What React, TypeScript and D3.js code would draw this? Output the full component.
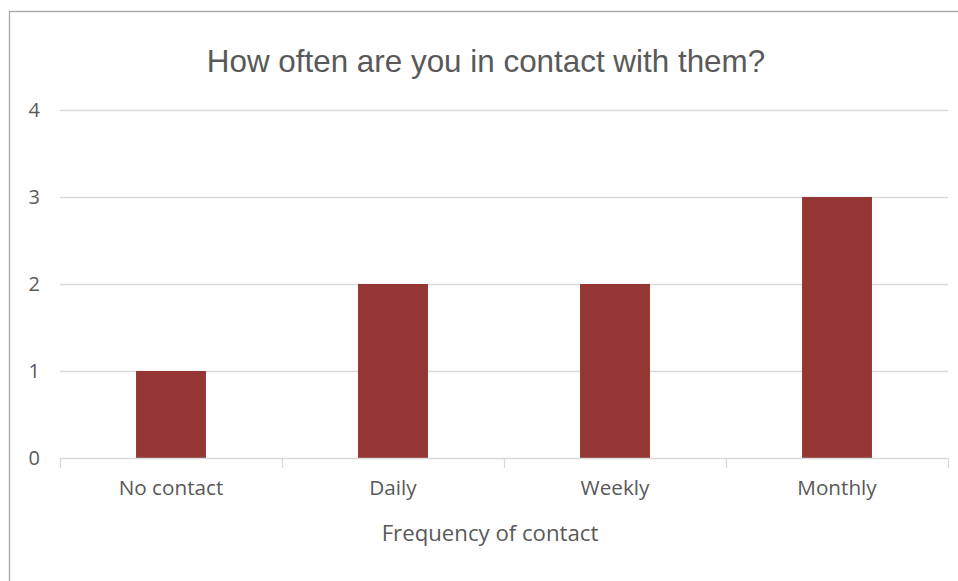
import React, { useEffect, useRef } from "react";
import * as d3 from "d3";

const categories = ["No contact", "Daily", "Weekly", "Monthly"];
const counts = [1, 2, 2, 3];
const yTicks = [0, 1, 2, 3, 4];

const title = "How often are you in contact with them?";
const xTitle = "Frequency of contact";

const W = 958;
const H = 581;

const App: React.FC = () => {
  const ref = useRef<SVGSVGElement>(null);

  useEffect(() => {
    if (!ref.current) return;
    const svg = d3.select(ref.current);
    svg.selectAll("*").remove();

    const left = 60;
    const right = 948;
    const top = 110;
    const bottom = 458;

    // chart frame (runs off the right and bottom edges)
    svg
      .append("rect")
      .attr("x", 9.5)
      .attr("y", 11.5)
      .attr("width", W + 20)
      .attr("height", H + 20)
      .attr("fill", "#fff")
      .attr("stroke", "#a6a6a6")
      .attr("stroke-width", 1.3);

    const x = d3
      .scaleBand<string>()
      .domain(categories)
      .range([left, right])
      .paddingInner(0.685)
      .paddingOuter(0.3425);

    const y = d3.scaleLinear().domain([0, 4]).range([bottom, top]);

    // gridlines
    svg
      .append("g")
      .selectAll("line")
      .data(yTicks.filter((d) => d > 0))
      .enter()
      .append("line")
      .attr("x1", left)
      .attr("x2", right)
      .attr("y1", (d) => Math.round(y(d)) + 0.5)
      .attr("y2", (d) => Math.round(y(d)) + 0.5)
      .attr("stroke", "#d9d9d9")
      .attr("stroke-width", 1.3);

    // y labels
    svg
      .append("g")
      .selectAll("text")
      .data(yTicks)
      .enter()
      .append("text")
      .attr("x", 40)
      .attr("y", (d) => y(d))
      .attr("dy", "0.36em")
      .attr("text-anchor", "end")
      .attr("font-family", "'Open Sans', sans-serif")
      .attr("font-size", 20)
      .attr("fill", "#595959")
      .text((d) => d);

    // bars
    svg
      .append("g")
      .selectAll("rect")
      .data(counts)
      .enter()
      .append("rect")
      .attr("x", (_, i) => x(categories[i]) as number)
      .attr("width", x.bandwidth())
      .attr("y", (d) => y(d))
      .attr("height", (d) => y(0) - y(d))
      .attr("fill", "#943634");

    // x axis line and ticks
    const step = x.step();
    const tickXs = d3.range(categories.length + 1).map((i) => left + i * step);
    svg
      .append("line")
      .attr("x1", left)
      .attr("x2", right)
      .attr("y1", Math.round(y(0)) + 0.5)
      .attr("y2", Math.round(y(0)) + 0.5)
      .attr("stroke", "#d9d9d9")
      .attr("stroke-width", 1.3);
    svg
      .append("g")
      .selectAll("line")
      .data(tickXs)
      .enter()
      .append("line")
      .attr("x1", (d) => Math.round(d) + 0.5)
      .attr("x2", (d) => Math.round(d) + 0.5)
      .attr("y1", y(0))
      .attr("y2", y(0) + 10)
      .attr("stroke", "#d9d9d9")
      .attr("stroke-width", 1.3);

    // category labels
    svg
      .append("g")
      .selectAll("text")
      .data(categories)
      .enter()
      .append("text")
      .attr("x", (d) => (x(d) as number) + x.bandwidth() / 2)
      .attr("y", 495)
      .attr("text-anchor", "middle")
      .attr("font-family", "'Open Sans', sans-serif")
      .attr("font-size", 20.7)
      .attr("fill", "#595959")
      .text((d) => d);

    // axis title
    svg
      .append("text")
      .attr("x", (left + right) / 2 - 14)
      .attr("y", 541)
      .attr("text-anchor", "middle")
      .attr("font-family", "'Open Sans', sans-serif")
      .attr("font-size", 22.2)
      .attr("fill", "#595959")
      .text(xTitle);

    // chart title
    svg
      .append("text")
      .attr("x", 486)
      .attr("y", 72)
      .attr("text-anchor", "middle")
      .attr("font-family", "'Liberation Sans', Arial, sans-serif")
      .attr("font-size", 31.4)
      .attr("fill", "#595959")
      .text(title);
  }, []);

  return (
    <svg
      ref={ref}
      width={W}
      height={H}
      style={{ position: "absolute", left: 0, top: 0, display: "block" }}
    />
  );
};

export default App;
